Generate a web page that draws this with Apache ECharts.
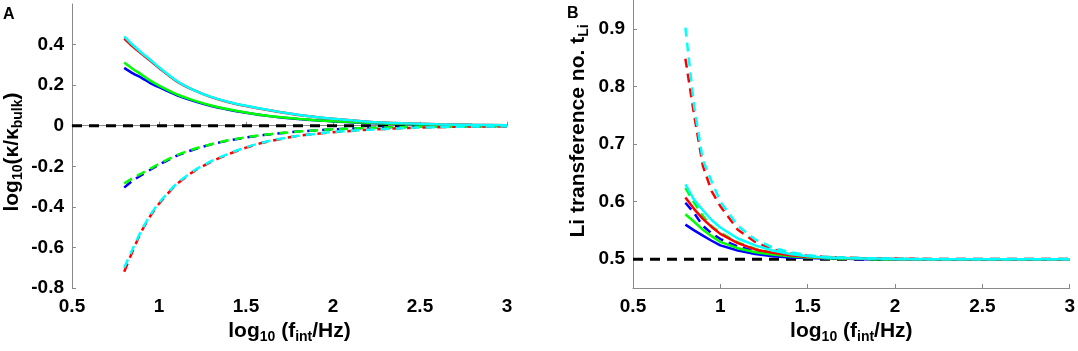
<!DOCTYPE html>
<html>
<head>
<meta charset="utf-8">
<script src="https://cdn.jsdelivr.net/npm/echarts@6/dist/echarts.min.js"></script>
<style>
  html, body { margin: 0; padding: 0; background: #fff; }
  #main { width: 1078px; height: 351px; }
</style>
</head>
<body>
<div id="main"></div>
<script>
// shared x grid, log10(f_int/Hz)
const xs = [0.8, 0.85, 0.9, 0.95, 1.0, 1.1, 1.2, 1.3, 1.4, 1.5, 1.6, 1.7, 1.8, 1.9, 2.0, 2.2, 2.4, 2.6, 2.8, 3.0]

// panel A: log10(kappa/kappa_bulk)
const aBlueSolid = [0.285, 0.258, 0.236, 0.21, 0.19, 0.151, 0.121, 0.097, 0.079, 0.064, 0.051, 0.041, 0.033, 0.027, 0.021, 0.013, 0.008, 0.005, 0.003, 0.002]
const aGreenSolid = [0.312, 0.28, 0.252, 0.222, 0.198, 0.156, 0.125, 0.1, 0.081, 0.065, 0.052, 0.042, 0.034, 0.027, 0.022, 0.014, 0.009, 0.005, 0.003, 0.002]
const aRedSolid = [0.43, 0.39, 0.354, 0.32, 0.285, 0.22, 0.175, 0.141, 0.116, 0.097, 0.081, 0.066, 0.053, 0.043, 0.034, 0.02, 0.012, 0.007, 0.004, 0.002]
const aCyanSolid = [0.441, 0.398, 0.36, 0.325, 0.288, 0.222, 0.176, 0.142, 0.117, 0.098, 0.082, 0.067, 0.054, 0.043, 0.034, 0.02, 0.012, 0.007, 0.004, 0.002]
const aBlueDash = [-0.305, -0.27, -0.243, -0.217, -0.192, -0.149, -0.117, -0.092, -0.073, -0.058, -0.046, -0.037, -0.029, -0.023, -0.018, -0.011, -0.007, -0.004, -0.003, -0.002]
const aGreenDash = [-0.285, -0.258, -0.235, -0.212, -0.188, -0.146, -0.115, -0.091, -0.072, -0.057, -0.045, -0.036, -0.029, -0.023, -0.018, -0.011, -0.007, -0.004, -0.003, -0.002]
const aRedDash = [-0.72, -0.615, -0.52, -0.445, -0.385, -0.29, -0.225, -0.178, -0.14, -0.108, -0.083, -0.065, -0.05, -0.04, -0.032, -0.02, -0.012, -0.007, -0.004, -0.003]
const aCyanDash = [-0.70, -0.605, -0.515, -0.44, -0.38, -0.287, -0.222, -0.175, -0.138, -0.106, -0.082, -0.064, -0.05, -0.04, -0.031, -0.02, -0.012, -0.007, -0.004, -0.003]
const aRef = 0

// panel B: Li transference number
const bBlueSolid = [0.56, 0.55, 0.541, 0.532, 0.524, 0.515, 0.509, 0.505, 0.503, 0.502, 0.501, 0.501, 0.5, 0.5, 0.5, 0.5, 0.5, 0.5, 0.5, 0.5]
const bGreenSolid = [0.578, 0.565, 0.551, 0.54, 0.53, 0.519, 0.512, 0.508, 0.505, 0.503, 0.502, 0.501, 0.501, 0.5, 0.5, 0.5, 0.5, 0.5, 0.5, 0.5]
const bRedSolid = [0.607, 0.587, 0.57, 0.556, 0.544, 0.528, 0.517, 0.511, 0.507, 0.504, 0.503, 0.502, 0.501, 0.501, 0.5, 0.5, 0.5, 0.5, 0.5, 0.5]
const bCyanSolid = [0.63, 0.603, 0.585, 0.568, 0.555, 0.536, 0.524, 0.515, 0.509, 0.505, 0.503, 0.502, 0.501, 0.501, 0.5, 0.5, 0.5, 0.5, 0.5, 0.5]
const bBlueDash = [0.598, 0.58, 0.558, 0.545, 0.535, 0.522, 0.514, 0.509, 0.505, 0.503, 0.502, 0.501, 0.501, 0.5, 0.5, 0.5, 0.5, 0.5, 0.5, 0.5]
const bGreenDash = [0.624, 0.598, 0.575, 0.557, 0.546, 0.529, 0.518, 0.511, 0.507, 0.504, 0.502, 0.501, 0.501, 0.5, 0.5, 0.5, 0.5, 0.5, 0.5, 0.5]
const bRedDash = [0.848, 0.75, 0.662, 0.618, 0.592, 0.551, 0.53, 0.517, 0.51, 0.506, 0.504, 0.503, 0.502, 0.501, 0.501, 0.5, 0.5, 0.5, 0.5, 0.5]
const bCyanDash = [0.902, 0.765, 0.672, 0.635, 0.6, 0.558, 0.534, 0.52, 0.512, 0.507, 0.504, 0.503, 0.502, 0.501, 0.501, 0.5, 0.5, 0.5, 0.5, 0.5]
const bRef = 0.5

const xRange = [0.5, 3]
const FONT = '"Liberation Sans", Arial, sans-serif'
const AXIS_GREY = '#8a8a8a'

const rich = {
  n: { fontFamily: FONT, fontWeight: 'bold', fontSize: 21, color: '#000' },
  s: { fontFamily: FONT, fontWeight: 'bold', fontSize: 14, color: '#000', padding: [12, 0, 0, 0] }
}

function pts(vals) {
  return xs.map((x, i) => [x, vals[i]])
}

function line(idx, vals, color, dashed, z) {
  return {
    type: 'line',
    xAxisIndex: idx,
    yAxisIndex: idx,
    data: pts(vals),
    symbol: 'none',
    smooth: idx === 0 ? 0.25 : false,
    silent: true,
    z: z,
    lineStyle: { color: color, width: 2.5, type: dashed ? [9, 6] : 'solid' }
  }
}

function refLine(idx, v) {
  return {
    type: 'line',
    xAxisIndex: idx,
    yAxisIndex: idx,
    data: [[xRange[0], v], [xRange[1], v]],
    symbol: 'none',
    silent: true,
    z: 1,
    lineStyle: { color: '#000', width: 3, type: [10, 7] }
  }
}

const tickLabel = { color: '#000', fontFamily: FONT, fontWeight: 'bold', fontSize: 19 }

function xAxis(grid) {
  return {
    type: 'value',
    gridIndex: grid,
    min: xRange[0],
    max: xRange[1],
    interval: 0.5,
    name: '{n|log}{s|10}{n| (f}{s|int}{n|/Hz)}',
    nameLocation: 'middle',
    nameGap: 30,
    nameTextStyle: { rich: rich },
    axisLine: { lineStyle: { color: AXIS_GREY, width: 1 } },
    axisTick: { inside: true, length: 4, lineStyle: { color: AXIS_GREY } },
    axisLabel: Object.assign({ margin: 9 }, tickLabel),
    splitLine: { show: false }
  }
}

function yAxis(grid, min, max, extra) {
  return Object.assign({
    type: 'value',
    gridIndex: grid,
    min: min,
    max: max,
    axisLine: { show: true, lineStyle: { color: AXIS_GREY, width: 1 } },
    axisTick: { show: true, inside: true, length: 4, lineStyle: { color: AXIS_GREY } },
    splitLine: { show: false }
  }, extra)
}

const chart = echarts.init(document.getElementById('main'))
const option = {
  animation: false,
  backgroundColor: '#fff',
  grid: [
    { left: 72, width: 435, top: 4, height: 284 },
    { left: 633, width: 441, top: 0, height: 288 }
  ],
  xAxis: [xAxis(0), xAxis(1)],
  yAxis: [
    yAxis(0, -0.8, 0.6, {
      interval: 0.2,
      axisLabel: Object.assign({
        margin: 8,
        showMaxLabel: false,
        formatter: v => (Math.abs(v) < 1e-9 ? '0' : String(Math.round(v * 10) / 10))
      }, tickLabel)
    }),
    yAxis(1, 0.45, 0.95, {
      splitNumber: 5,
      axisLabel: Object.assign({ margin: 8, showMinLabel: false, showMaxLabel: false }, tickLabel)
    })
  ],
  graphic: [
    { type: 'text', left: 3, top: 7, style: { text: 'A', font: 'bold 16px ' + FONT, fill: '#000' } },
    { type: 'text', left: 567, top: 6, style: { text: 'B', font: 'bold 16px ' + FONT, fill: '#000' } },
    {
      type: 'text', x: 12, y: 152, rotation: Math.PI / 2,
      style: { text: '{n|log}{s|10}{n|(κ/κ}{s|bulk}{n|)}', rich: rich, align: 'center', verticalAlign: 'middle' }
    },
    {
      type: 'text', x: 578, y: 131, rotation: Math.PI / 2,
      style: { text: '{n|Li transference no. t}{s|Li}', rich: rich, align: 'center', verticalAlign: 'middle' }
    }
  ],
  series: [
    refLine(0, aRef),
    line(0, aBlueSolid, '#0000ff', false, 2),
    line(0, aGreenSolid, '#00ff00', false, 3),
    line(0, aRedSolid, '#ff0000', false, 4),
    line(0, aCyanSolid, '#00ffff', false, 5),
    line(0, aBlueDash, '#0000ff', true, 2),
    line(0, aGreenDash, '#00ff00', true, 3),
    line(0, aRedDash, '#ff0000', true, 4),
    line(0, aCyanDash, '#00ffff', true, 5),
    refLine(1, bRef),
    line(1, bBlueSolid, '#0000ff', false, 2),
    line(1, bBlueDash, '#0000ff', true, 2),
    line(1, bGreenSolid, '#00ff00', false, 3),
    line(1, bGreenDash, '#00ff00', true, 3),
    line(1, bRedSolid, '#ff0000', false, 4),
    line(1, bRedDash, '#ff0000', true, 4),
    line(1, bCyanSolid, '#00ffff', false, 5),
    line(1, bCyanDash, '#00ffff', true, 5)
  ]
}
chart.setOption(option)
</script>
</body>
</html>
